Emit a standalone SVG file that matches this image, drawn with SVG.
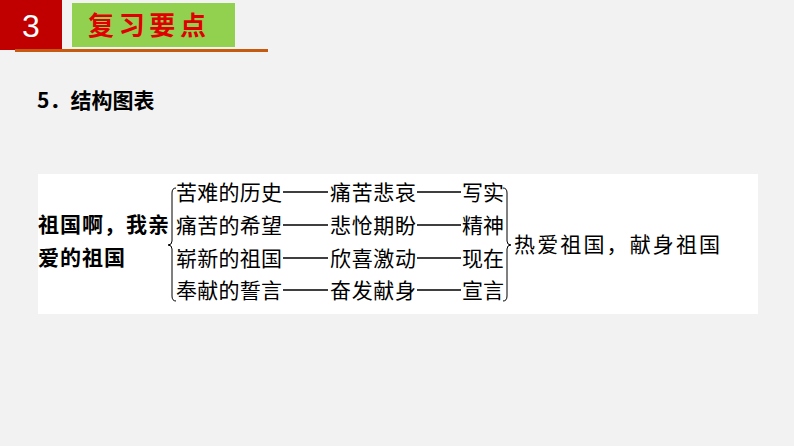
<svg xmlns="http://www.w3.org/2000/svg" width="794" height="446" viewBox="0 0 794 446">
<style>
.t{font-family:"Noto Sans CJK SC",sans-serif;font-size:21px;fill:#000}
.b{font-family:"Noto Sans CJK SC",sans-serif;font-size:21px;font-weight:bold;fill:#000}
.br{fill:none;stroke:#000;stroke-width:1}
.d{stroke:#000;stroke-width:1.3}
</style>
<rect width="794" height="446" fill="#f2f2f2"/>
<g id="header">
<rect x="0" y="0" width="62" height="50" fill="#c00000"/>
<text x="31" y="37" text-anchor="middle" font-family="Liberation Sans,sans-serif" font-size="32" fill="#fff">3</text>
<rect x="72" y="3" width="163" height="44" fill="#92d050"/>
<text x="88" y="35" textLength="118" font-family="Noto Sans CJK SC,sans-serif" font-size="26" font-weight="bold" fill="#e00000">复习要点</text>
<rect x="15" y="49" width="253" height="3" fill="#c55a11"/>
</g>
<g id="title"><text x="37" y="108" class="t" font-size="16" font-weight="bold">5．结构图表</text></g>
<rect x="38" y="174" width="720" height="140" fill="#fff"/>
<g id="left"><text x="38" y="232" class="b" textLength="131">祖国啊，我亲</text><text x="38" y="265" class="b" textLength="87">爱的祖国</text></g>
<g id="rows" class="t">
<text x="176" y="200" textLength="106">苦难的历史</text><text x="330" y="200" textLength="86">痛苦悲哀</text><text x="462" y="200" textLength="42">写实</text>
<text x="176" y="233" textLength="106">痛苦的希望</text><text x="330" y="233" textLength="86">悲怆期盼</text><text x="462" y="233" textLength="42">精神</text>
<text x="176" y="266" textLength="106">崭新的祖国</text><text x="330" y="266" textLength="86">欣喜激动</text><text x="462" y="266" textLength="42">现在</text>
<text x="176" y="298" textLength="106">奉献的誓言</text><text x="330" y="298" textLength="86">奋发献身</text><text x="462" y="298" textLength="42">宣言</text>
</g>
<g id="connectors">
<path class="d" d="M283,192H328M417,192H461M283,225H328M417,225H461M283,258H328M417,258H461M283,290H328M417,290H461"/>
<path class="br" d="M176,188 Q172,188 172,193 L172,241 Q172,245 168,245 Q172,245 172,249 L172,296 Q172,301 176,301"/>
<path class="br" d="M503,188 Q507,188 507,193 L507,241 Q507,245 511,245 Q507,245 507,249 L507,296 Q507,301 503,301"/>
</g>
<g id="right"><text x="514" y="252" class="t" textLength="206">热爱祖国，献身祖国</text></g>
</svg>
